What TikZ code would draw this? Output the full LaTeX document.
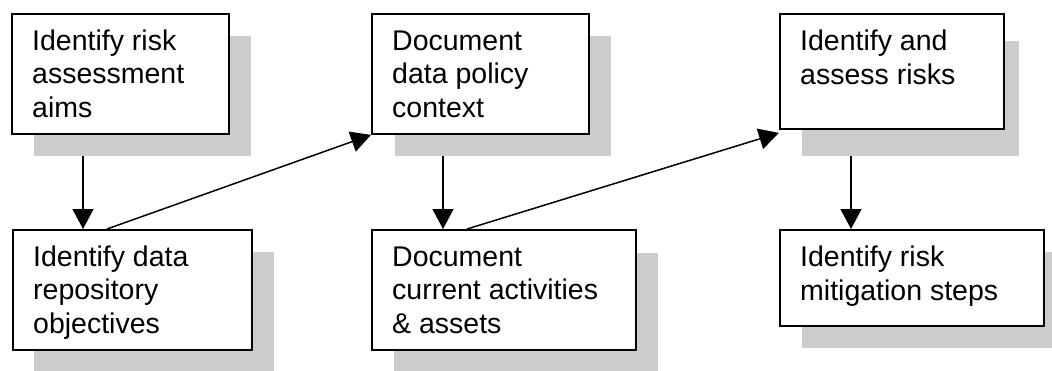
\documentclass[tikz,border=0pt]{standalone}
\usepackage{fontspec}
\setmainfont{Liberation Sans}
\usetikzlibrary{arrows.meta,calc}
\definecolor{shadowgray}{RGB}{204,204,204}
\tikzset{
  box/.style={draw=black, line width=1.9pt, fill=white, rectangle, inner sep=0pt, anchor=north west},
  shadowbox/.style={fill=shadowgray, draw=none, rectangle, inner sep=0pt, anchor=north west},
  txt/.style={anchor=base west, inner sep=0pt, align=left, font=\fontsize{28.5}{33.4}\selectfont},
  arr/.style={line width=1.5pt, -{Triangle[length=20pt,width=21pt]}, shorten >=0pt}
}
\begin{document}
\begin{tikzpicture}[x=1pt,y=-1pt]
\useasboundingbox (0,0) rectangle (1052,370);
\clip (0,0) rectangle (1052,370);
% shadows
\node[shadowbox, minimum width=217pt, minimum height=120pt] (s1) at (34,36) {};
\node[shadowbox, minimum width=240pt, minimum height=120pt] (s2) at (34,252) {};
\node[shadowbox, minimum width=216pt, minimum height=120pt] (s3) at (395,36) {};
\node[shadowbox, minimum width=264pt, minimum height=120pt] (s4) at (394,253) {};
\node[shadowbox, minimum width=217pt, minimum height=115pt] (s5) at (802,41) {};
\node[shadowbox, minimum width=264pt, minimum height=96pt] (s6) at (802,252) {};
% boxes
\node[box, minimum width=217pt, minimum height=120pt] (b1) at (11,13) {};
\node[box, minimum width=239pt, minimum height=120pt] (b2) at (12,229) {};
\node[box, minimum width=217pt, minimum height=120pt] (b3) at (371,13) {};
\node[box, minimum width=264pt, minimum height=120pt] (b4) at (371,229) {};
\node[box, minimum width=224pt, minimum height=115pt] (b5) at (779,13) {};
\node[box, minimum width=264pt, minimum height=96pt] (b6) at (779,229) {};
% texts (anchor is the last line's baseline)
\node[txt] (t1) at ($(b1.north west)+(21,104)$) {Identify risk\\assessment\\aims};
\node[txt] (t2) at ($(b2.north west)+(21,104)$) {Identify data\\repository\\objectives};
\node[txt] (t3) at ($(b3.north west)+(21,104)$) {Document\\data policy\\context};
\node[txt] (t4) at ($(b4.north west)+(21,104)$) {Document\\current activities\\\& assets};
\node[txt] (t5) at ($(b5.north west)+(21,71)$) {Identify and\\assess risks};
\node[txt] (t6) at ($(b6.north west)+(21,71)$) {Identify risk\\mitigation steps};
% connectors
\coordinate (a1s) at ($(s1.south west)+(49,0)$);
\coordinate (a1e) at ($(b2.north west)+(71,0)$);
\draw[arr] (a1s) -- (a1e);
\coordinate (a3s) at ($(s3.south west)+(48,0)$);
\coordinate (a3e) at ($(b4.north west)+(72,0)$);
\draw[arr] (a3s) -- (a3e);
\coordinate (a5s) at ($(s5.south west)+(49,0)$);
\coordinate (a5e) at ($(b6.north west)+(72,0)$);
\draw[arr] (a5s) -- (a5e);
\coordinate (d1s) at ($(b2.north west)+(95,0)$);
\draw[arr] (d1s) -- (b3.south west);
\coordinate (d2s) at ($(b4.north west)+(96,0)$);
\coordinate (d2e) at ($(b5.south west)+(0,3)$);
\draw[arr] (d2s) -- (d2e);
\end{tikzpicture}
\end{document}
